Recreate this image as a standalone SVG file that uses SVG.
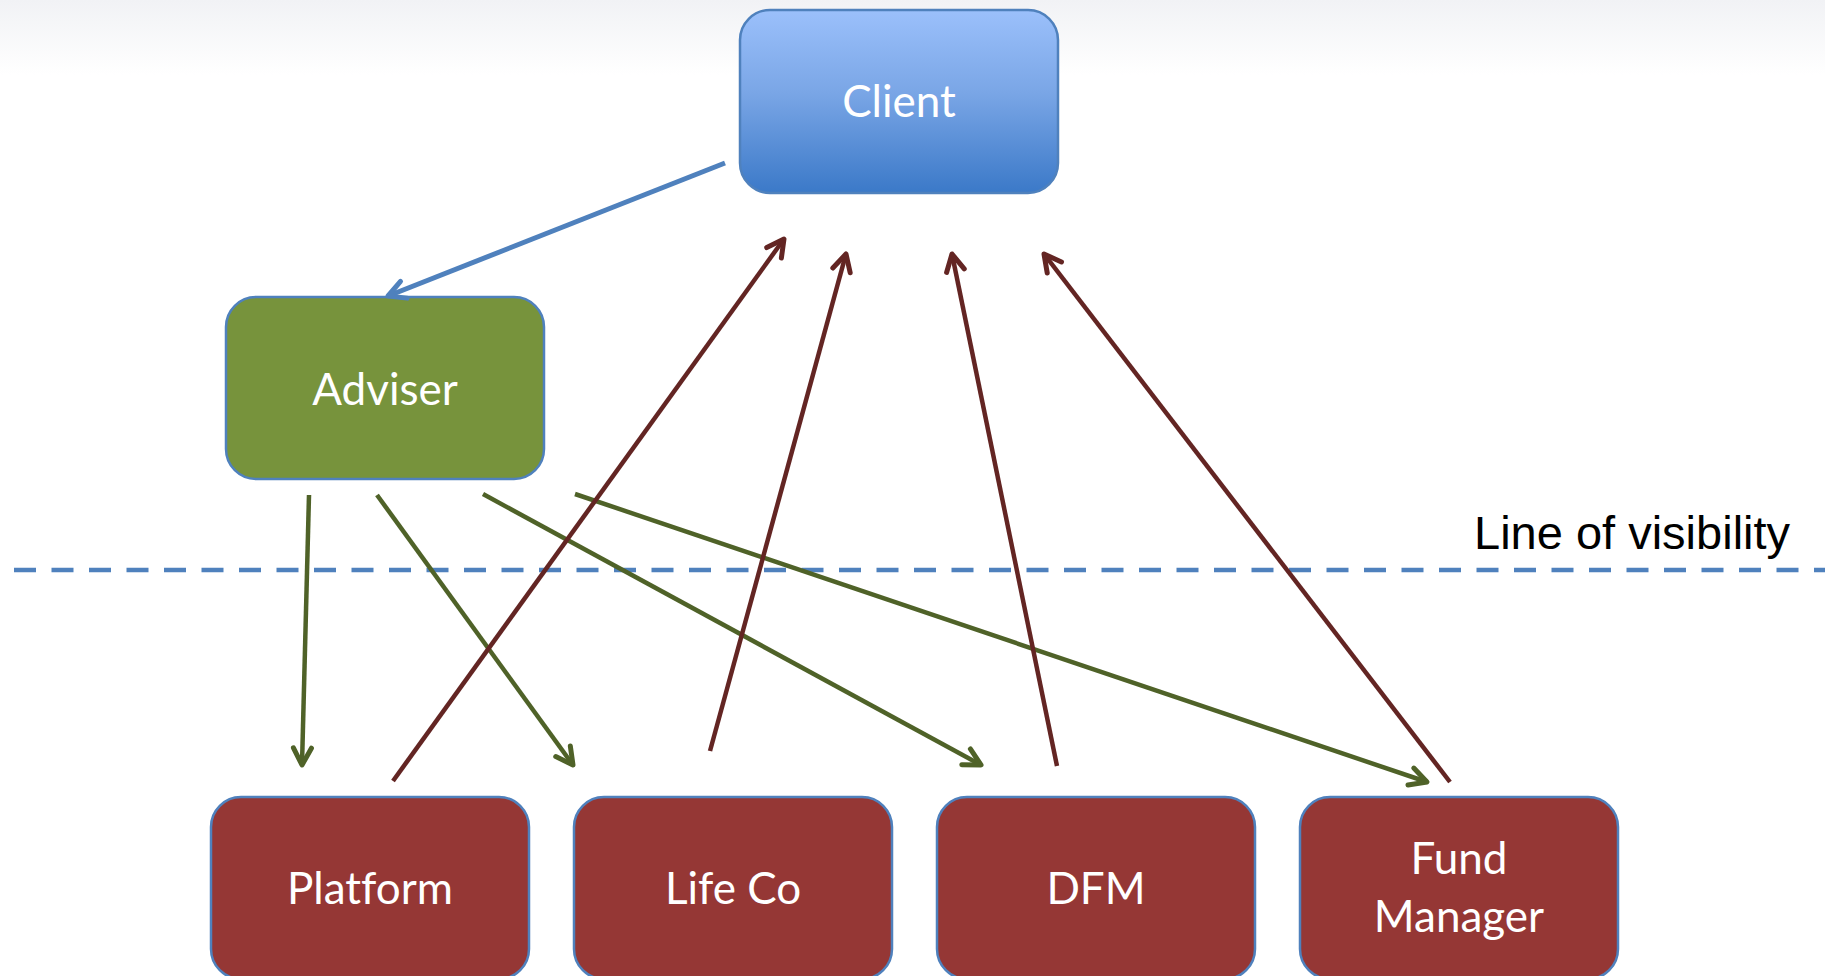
<svg xmlns="http://www.w3.org/2000/svg" width="1825" height="976" viewBox="0 0 1825 976">
  <defs>
    <linearGradient id="bg" x1="0" y1="0" x2="0" y2="1">
      <stop offset="0" stop-color="#f1f2f5"/>
      <stop offset="1" stop-color="#ffffff"/>
    </linearGradient>
    <linearGradient id="clientFill" x1="0" y1="0" x2="0" y2="1">
      <stop offset="0" stop-color="#9bc0fb"/>
      <stop offset="0.45" stop-color="#7aa6e6"/>
      <stop offset="1" stop-color="#3b79c8"/>
    </linearGradient>
    <marker id="ahBlue" viewBox="0 0 24 24" markerWidth="24" markerHeight="24" refX="21" refY="12" orient="auto" markerUnits="userSpaceOnUse">
      <path d="M4,3 L21,12 L4,21" fill="none" stroke="#4f81bd" stroke-width="5" stroke-linecap="round" stroke-linejoin="round"/>
    </marker>
    <marker id="ahGreen" viewBox="0 0 24 24" markerWidth="24" markerHeight="24" refX="21" refY="12" orient="auto" markerUnits="userSpaceOnUse">
      <path d="M4,3 L21,12 L4,21" fill="none" stroke="#4f6228" stroke-width="5" stroke-linecap="round" stroke-linejoin="round"/>
    </marker>
    <marker id="ahRed" viewBox="0 0 24 24" markerWidth="24" markerHeight="24" refX="21" refY="12" orient="auto" markerUnits="userSpaceOnUse">
      <path d="M4,3 L21,12 L4,21" fill="none" stroke="#632523" stroke-width="5" stroke-linecap="round" stroke-linejoin="round"/>
    </marker>
  </defs>
  <style>
    .box { stroke: #4f81bd; stroke-width: 2.5; }
    .lbl { font-family: Lato, "Open Sans", "Liberation Sans", sans-serif; font-size: 44px; fill: #ffffff; text-anchor: middle; font-variant-ligatures: none; }
    .blue { stroke: #4f81bd; stroke-width: 5; fill: none; marker-end: url(#ahBlue); }
    .green { stroke: #4f6228; stroke-width: 4.5; fill: none; marker-end: url(#ahGreen); }
    .red { stroke: #632523; stroke-width: 4.5; fill: none; marker-end: url(#ahRed); }
    .vis { stroke: #4f81bd; stroke-width: 4.5; stroke-dasharray: 22 15.5; fill: none; }
    .vistext { font-family: "Liberation Sans", Arial, sans-serif; font-size: 47px; fill: #000000; }
  </style>

  <rect x="0" y="0" width="1825" height="976" fill="#ffffff"/>
  <rect x="0" y="0" width="1825" height="75" fill="url(#bg)"/>

  <g id="visibility">
    <line class="vis" x1="14" y1="570" x2="1825" y2="570"/>
    <text class="vistext" x="1474" y="549">Line of visibility</text>
  </g>

  <g id="client">
    <rect class="box" x="740" y="10" width="318" height="183" rx="30" ry="30" fill="url(#clientFill)"/>
    <text class="lbl" x="899" y="117">Client</text>
  </g>

  <g id="adviser">
    <rect class="box" x="226" y="297" width="318" height="182" rx="30" ry="30" fill="#77933c"/>
    <text class="lbl" x="385" y="405">Adviser</text>
  </g>

  <g id="platform">
    <rect class="box" x="211" y="797" width="318" height="182" rx="30" ry="30" fill="#953735"/>
    <text class="lbl" x="370" y="904">Platform</text>
  </g>

  <g id="lifeco">
    <rect class="box" x="574" y="797" width="318" height="182" rx="30" ry="30" fill="#953735"/>
    <text class="lbl" x="733" y="904">Life Co</text>
  </g>

  <g id="dfm">
    <rect class="box" x="937" y="797" width="318" height="182" rx="30" ry="30" fill="#953735"/>
    <text class="lbl" x="1096" y="904">DFM</text>
  </g>

  <g id="fundmanager">
    <rect class="box" x="1300" y="797" width="318" height="182" rx="30" ry="30" fill="#953735"/>
    <text class="lbl" x="1459" y="874">Fund</text>
    <text class="lbl" x="1459" y="932">Manager</text>
  </g>

  <g id="connectors">
    <line class="blue" x1="725" y1="163" x2="388" y2="296"/>
    <line class="green" x1="309" y1="495" x2="302" y2="765"/>
    <line class="green" x1="377" y1="495" x2="573" y2="765"/>
    <line class="green" x1="483" y1="494" x2="981" y2="765"/>
    <line class="green" x1="575" y1="494" x2="1427" y2="782"/>
    <line class="red" x1="393" y1="781" x2="784" y2="239"/>
    <line class="red" x1="710" y1="751" x2="846" y2="254"/>
    <line class="red" x1="1057" y1="766" x2="952" y2="254"/>
    <line class="red" x1="1450" y1="782" x2="1044" y2="254"/>
  </g>
</svg>
